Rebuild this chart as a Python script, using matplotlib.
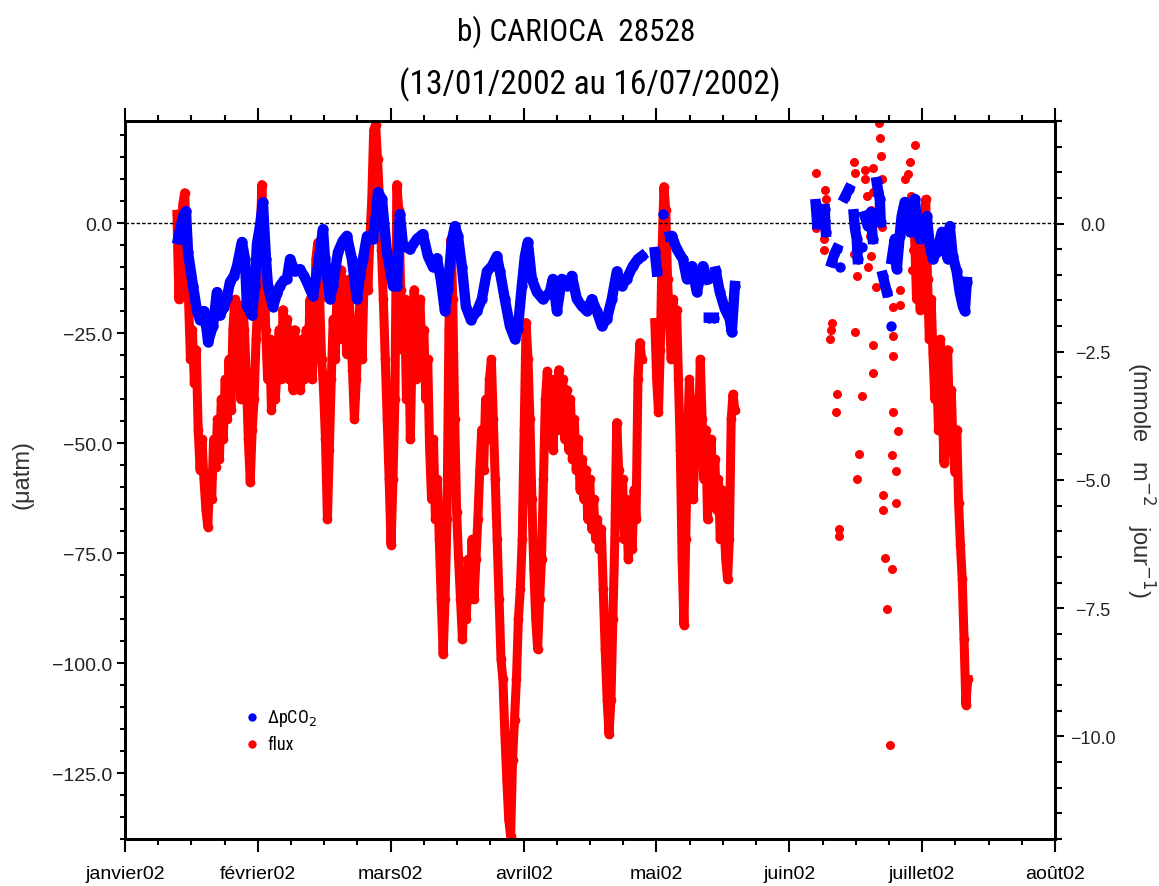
import numpy as np
import matplotlib
matplotlib.use("Agg")
import matplotlib.pyplot as plt
from matplotlib.ticker import MultipleLocator, FuncFormatter

plt.rcParams['font.family'] = ['Liberation Sans', 'DejaVu Sans']
narrow = ['Liberation Sans Narrow', 'Roboto Condensed', 'Liberation Sans', 'DejaVu Sans']

nan = np.nan

# axe du temps : mois depuis le 1er janvier 2002
mois = ['janvier02', 'février02', 'mars02', 'avril02', 'mai02', 'juin02', 'juillet02', 'août02']

# DeltapCO2 (µatm) : (temps, valeur), nan = coupure
dpco2_obs = [
    (0.399, -3.6), (0.421, -0.5), (0.444, 2.0), (0.459, 2.7), (0.474, -6.6), (0.512, -14.3),
    (0.542, -20.0), (0.564, -22.0), (0.594, -20.0), (0.617, -24.8), (0.625, -27.0), (0.662, -23.4),
    (0.692, -15.7), (0.715, -21.0), (0.745, -19.0), (0.767, -17.0), (0.790, -13.4), (0.820, -12.0),
    (0.843, -9.8), (0.880, -4.3), (0.903, -8.2), (0.918, -18.9), (0.956, -21.0), (0.978, -14.3),
    (0.993, -4.8), (1.016, -0.7), (1.038, 4.7), (1.061, -8.2), (1.076, -14.3), (1.114, -19.0),
    (1.144, -16.0), (1.166, -14.3), (1.196, -13.0), (1.219, -12.7), (1.242, -8.2), (1.279, -11.0),
    (1.317, -10.5), (1.347, -12.0), (1.369, -13.4), (1.415, -16.6), (1.452, -9.8), (1.490, -1.4),
    (1.505, -8.0), (1.542, -17.3), (1.565, -14.3), (1.603, -6.6), (1.640, -4.0), (1.670, -2.9),
    (1.708, -8.2), (1.746, -17.3), (1.768, -12.0), (1.791, -8.2), (1.821, -3.0), (1.866, -3.6),
    (1.889, 2.0), (1.904, 7.0), (1.934, 5.5), (1.971, -6.6), (2.017, -14.3), (2.047, -14.3),
    (2.069, 2.0), (2.092, -5.0), (2.144, -6.0), (2.197, -3.6), (2.242, -2.5), (2.280, -7.5),
    (2.318, -10.0), (2.348, -8.0), (2.378, -13.0), (2.408, -20.0), (2.430, -15.0), (2.460, -4.0),
    (2.483, -0.7), (2.506, -3.0), (2.536, -10.0), (2.566, -19.0), (2.603, -22.0), (2.649, -20.0),
    (2.686, -17.3), (2.724, -11.0), (2.761, -9.8), (2.799, -7.5), (2.822, -11.0), (2.859, -17.3),
    (2.897, -23.4), (2.935, -26.4), (2.957, -24.0), (2.987, -14.3), (3.010, -7.5), (3.032, -4.3),
    (3.062, -12.7), (3.100, -15.7), (3.145, -17.3), (3.198, -15.7), (3.220, -12.7), (3.251, -20.0),
    (3.288, -12.7), (3.326, -14.3), (3.363, -12.0), (3.401, -17.3), (3.439, -18.9), (3.476, -20.0),
    (3.514, -17.3), (3.551, -20.0), (3.589, -23.4), (3.627, -21.8), (3.664, -17.3), (3.702, -11.0),
    (3.740, -14.3), (3.777, -12.7), (3.822, -9.8), (3.860, -8.2), (3.890, -7.5), (nan, nan),
    (3.988, -6.6), (4.003, -11.0), (nan, nan), (4.048, 2.0), (nan, nan),
    (4.101, -3.0), (4.116, -2.9), (4.153, -5.9), (4.199, -8.2), (4.229, -12.7), (4.266, -9.8),
    (4.304, -15.7), (4.349, -9.8), (4.387, -12.7), (nan, nan), (4.394, -21.5), (4.432, -21.5), (nan, nan),
    (4.447, -11.0), (4.477, -15.7), (4.515, -19.5), (4.552, -21.8), (4.567, -24.8), (4.590, -14.3), (nan, nan),
    (5.199, 4.3), (5.205, 2.0), (5.210, -0.2), (nan, nan),
    (5.267, 3.2), (5.270, 0.5), (5.275, -2.0), (nan, nan),
    (5.320, -8.9), (5.340, -7.0), (5.357, -5.9), (nan, nan), (5.380, -10.0), (nan, nan),
    (5.418, 5.9), (5.448, 7.7), (nan, nan),
    (5.485, 2.0), (5.493, -1.0), (5.508, -3.6), (5.515, -8.2), (nan, nan), (5.546, -5.4), (nan, nan),
    (5.568, 1.6), (5.591, -0.7), (5.613, 2.5), (5.628, -3.6), (nan, nan),
    (5.658, 9.3), (5.670, 7.0), (5.681, 5.5), (5.688, 0.2), (nan, nan),
    (5.704, -12.0), (5.734, -15.7), (nan, nan), (5.764, -23.4), (nan, nan),
    (5.771, -8.2), (5.794, -3.6), (5.809, -10.5), (5.831, -2.9), (5.846, 1.6), (5.869, 4.8),
    (5.892, 3.2), (5.907, -2.0), (5.944, 5.5), (5.967, -0.7), (5.982, -3.6), (6.020, -2.0),
    (6.035, 1.6), (6.057, -5.2), (6.080, -8.2), (6.110, -6.6), (6.148, -2.0), (6.170, -5.2),
    (6.193, -8.2), (6.208, -0.7), (6.230, -7.5), (6.260, -11.0), (6.283, -15.7), (6.306, -18.9),
    (6.321, -20.0), (6.336, -13.4),
]

# flux (mmole m-2 jour-1), troncons a pas de temps regulier
flux_a_debut, flux_a_fin = 0.391, 3.890
flux_a = [
    0.18, -1.48, -0.70, 0.37, 0.60, -0.31, -1.48, -2.65, -2.07, -3.10,
    -2.46, -4.02, -4.80, -4.21, -4.99, -5.58, -5.91, -4.99, -5.38, -4.21,
    -4.74, -3.82, -4.60, -3.43, -4.21, -3.04, -3.82, -2.65, -3.63, -2.07,
    -1.48, -3.04, -1.87, -3.43, -1.58, -2.07, -3.04, -4.21, -5.03, -4.02,
    -3.43, -2.26, -1.48, -0.51, 0.76, -0.31, -2.07, -3.04, -2.26, -3.63,
    -2.85, -3.43, -2.75, -2.07, -3.04, -1.68, -2.46, -1.87, -3.04, -2.26,
    -3.24, -2.07, -2.85, -2.36, -3.24, -2.26, -3.04, -2.07, -2.65, -1.48,
    -3.04, -2.26, -0.70, -0.37, -1.48, -2.65, -3.24, -4.21, -5.77, -4.41,
    -3.04, -1.87, -2.65, -1.29, -2.26, -0.90, -1.87, -1.48, -2.55, -1.09,
    -2.07, -2.85, -3.82, -3.04, -2.07, -1.48, -2.65, -1.09, -0.51, -1.29,
    -0.31, 0.47, 1.83, 1.93, 1.25, 0.47, -0.51, -1.48, -2.65, -3.82,
    -4.99, -6.26, -4.99, -3.43, 0.76, 0.27, -1.29, -2.46, -1.48, -3.43,
    -1.87, -4.21, -2.26, -1.29, -3.04, -2.07, -1.48, -2.65, -2.07, -3.43,
    -2.65, -4.41, -5.38, -4.21, -5.77, -4.99, -6.16, -7.33, -8.40, -7.33,
    -5.77, -2.07, -0.31, -1.48, -3.82, -5.63, -6.55, -7.33, -8.11, -6.94,
    -7.72, -6.55, -7.33, -6.16, -7.33, -6.55, -5.77, -4.80, -4.02, -4.80,
    -3.43, -4.21, -3.04, -2.65, -3.82, -4.99, -6.16, -7.33, -8.50, -8.89,
    -9.96, -10.84, -11.62, -11.95, -10.45, -9.67, -8.89, -7.72, -7.13, -6.16,
    -4.02, -1.93, -2.65, -3.82, -5.38, -6.74, -7.72, -8.30, -7.33, -6.55,
    -4.99, -3.43, -2.88, -3.82, -3.04, -4.41, -3.24, -4.02, -2.85, -3.82,
    -3.04, -4.21, -3.24, -4.41, -3.43, -4.60, -3.82, -4.80, -4.21, -5.19,
    -4.60, -5.38, -4.80, -5.77, -4.99, -5.96, -5.38, -6.16, -5.77, -6.35,
    -5.96, -7.13, -8.30, -9.28, -9.96, -9.28, -7.72, -6.16, -3.88, -4.80,
    -5.77, -4.99, -6.16, -5.38, -6.55, -5.58, -6.35, -5.19, -5.77, -3.04,
    -2.32, -2.65,
]
flux_b_debut, flux_b_fin = 3.988, 4.590
flux_b = [
    -1.93, -3.04, -3.68, -2.46, -0.51, 0.72, 0.27, -1.09, -1.87, -2.65,
    -1.48, -2.26, -1.68, -3.04, -4.41, -6.55, -7.82, -6.16, -4.21, -3.04,
    -3.82, -5.38, -4.60, -3.43, -4.21, -2.65, -3.82, -4.99, -4.02, -5.77,
    -4.80, -4.21, -5.38, -4.60, -5.58, -4.99, -6.16, -5.19, -5.77, -6.55,
    -6.94, -6.16, -3.82, -3.33, -3.63,
]
flux_c_debut, flux_c_fin = 5.944, 6.343
flux_c = [
    -0.31, -1.48, -0.51, -1.68, -0.70, -1.48, 0.47, -1.09, -2.26, -1.48,
    -2.55, -3.43, -2.85, -4.02, -2.26, -3.43, -4.66, -3.63, -2.46, -3.82,
    -3.24, -4.41, -4.85, -4.02, -5.44, -6.26, -6.94, -8.11, -9.38, -8.89,
]
# points isoles de juin-juillet
flux_pts = [
    (5.199, 0.99), (5.199, -0.08), (5.259, -0.31), (5.259, -0.51), (5.267, 0.66), (5.275, 0.47),
    (5.305, -2.26), (5.312, -2.07), (5.320, -1.93), (5.350, -3.68), (5.357, -3.33), (5.372, -5.96),
    (5.372, -6.10), (5.485, 1.21), (5.485, -0.60), (5.493, 0.99), (5.493, -2.11), (5.508, -1.03),
    (5.508, -4.99), (5.523, -4.50), (5.546, -3.37), (5.568, 1.05), (5.568, 0.86), (5.583, 0.53),
    (5.591, -0.84), (5.606, -0.25), (5.613, 0.27), (5.613, -0.64), (5.628, 1.09), (5.628, 0.62),
    (5.628, -2.36), (5.628, -2.92), (5.651, -1.23), (5.673, 1.97), (5.681, 1.66), (5.688, 1.31),
    (5.696, 0.86), (5.696, -0.06), (5.704, -5.30), (5.704, -5.58), (5.719, -6.53), (5.734, -7.52),
    (5.756, -10.16), (5.771, -4.52), (5.771, -6.73), (5.779, -1.62), (5.779, -2.20), (5.779, -2.59),
    (5.779, -3.68), (5.801, -4.83), (5.801, -5.44), (5.816, -4.05), (5.831, -1.29), (5.831, -1.58),
    (5.869, 0.86), (5.869, 0.33), (5.892, 0.96), (5.907, 1.21), (5.914, 0.53), (5.944, 1.54),
    (5.929, -0.51), (5.922, -0.90),
]

dp_t = [p[0] for p in dpco2_obs]
dp_v = [p[1] for p in dpco2_obs]

flux_t = np.concatenate([np.linspace(flux_a_debut, flux_a_fin, len(flux_a)), [nan],
                         np.linspace(flux_b_debut, flux_b_fin, len(flux_b)), [nan],
                         np.linspace(flux_c_debut, flux_c_fin, len(flux_c))])
flux_v = np.concatenate([flux_a, [nan], flux_b, [nan], flux_c])

fig = plt.figure(figsize=(11.59, 8.87), dpi=100)
ax = fig.add_axes([0.10785, 0.05299, 0.80242, 0.80947])
ax2 = ax.twinx()
ax.set_zorder(ax2.get_zorder() + 1)
ax.patch.set_visible(False)

ax2.plot(flux_t, flux_v, '-o', color='#ff0000', lw=6.5, ms=7, mew=0)
ax2.plot([p[0] for p in flux_pts], [p[1] for p in flux_pts], 'o', color='#ff0000', ms=6.5, mew=0)
ax.plot(dp_t, dp_v, '-o', color='#0000ff', lw=7.5, ms=7.5, mew=0)
ax.axhline(0, color='black', lw=1.0, ls=(0, (2.5, 1.5)), zorder=0.5)

moins = FuncFormatter(lambda v, p: f"{v:.1f}".replace('-', '\u2212'))

ax.set_xlim(0, 7)
ax.set_xticks(range(len(mois)))
ax.set_xticklabels(mois, fontsize=14)
ax.xaxis.set_minor_locator(MultipleLocator(0.25))
ax.tick_params(axis='x', which='both', direction='out', top=True, bottom=True, width=1.5)
ax.tick_params(axis='x', which='major', length=9.5, pad=9)
ax.tick_params(axis='x', which='minor', length=4.5)

ax.set_ylim(-140, 23.2)
ax.yaxis.set_major_locator(MultipleLocator(25))
ax.yaxis.set_minor_locator(MultipleLocator(5))
ax.yaxis.set_major_formatter(moins)
ax.tick_params(axis='y', which='both', direction='out', width=1.5, labelsize=14, labelcolor='#222222')
ax.tick_params(axis='y', which='major', length=6, pad=3)
ax.tick_params(axis='y', which='minor', length=3.5)

ax2.set_ylim(-12, 2)
ax2.set_yticks([0.0, -2.5, -5.0, -7.5, -10.0])
ax2.yaxis.set_minor_locator(MultipleLocator(0.5))
ax2.yaxis.set_major_formatter(moins)
ax2.tick_params(axis='y', which='both', direction='out', width=1.5, labelsize=13, labelcolor='#222222')
ax2.tick_params(axis='y', which='major', length=6.5, pad=21)
ax2.tick_params(axis='y', which='minor', length=5)
plt.setp(ax2.get_yticklabels(), ha='center')

for a in (ax, ax2):
    for s in a.spines.values():
        s.set_linewidth(2.0)

fig.text(0.497, 0.9639, 'b) CARIOCA  28528', ha='center', va='center', fontsize=22.5, family=narrow)
fig.text(0.509, 0.9042, '(13/01/2002 au 16/07/2002)', ha='center', va='center', fontsize=24, family=narrow)
fig.text(0.019, 0.4645, '(\u03bcatm)', rotation=90, ha='center', va='center', fontsize=17, color='#333333')
fig.text(0.984, 0.459, '(mmole   m$^{-2}$   jour$^{-1}$)', rotation=270, ha='center', va='center',
         fontsize=17, color='#333333')

# legende
ax.plot([0.1366], [0.1699], 'o', color='#0000ff', ms=6, mew=0, transform=ax.transAxes, clip_on=False)
ax.plot([0.1366], [0.1323], 'o', color='#ff0000', ms=6, mew=0, transform=ax.transAxes, clip_on=False)
ax.text(0.1527, 0.1699, '\u0394pCO$_2$', transform=ax.transAxes, va='center', fontsize=13, family=narrow)
ax.text(0.1527, 0.1323, 'flux', transform=ax.transAxes, va='center', fontsize=13, family=narrow)

fig.savefig('out.png', dpi=100)
